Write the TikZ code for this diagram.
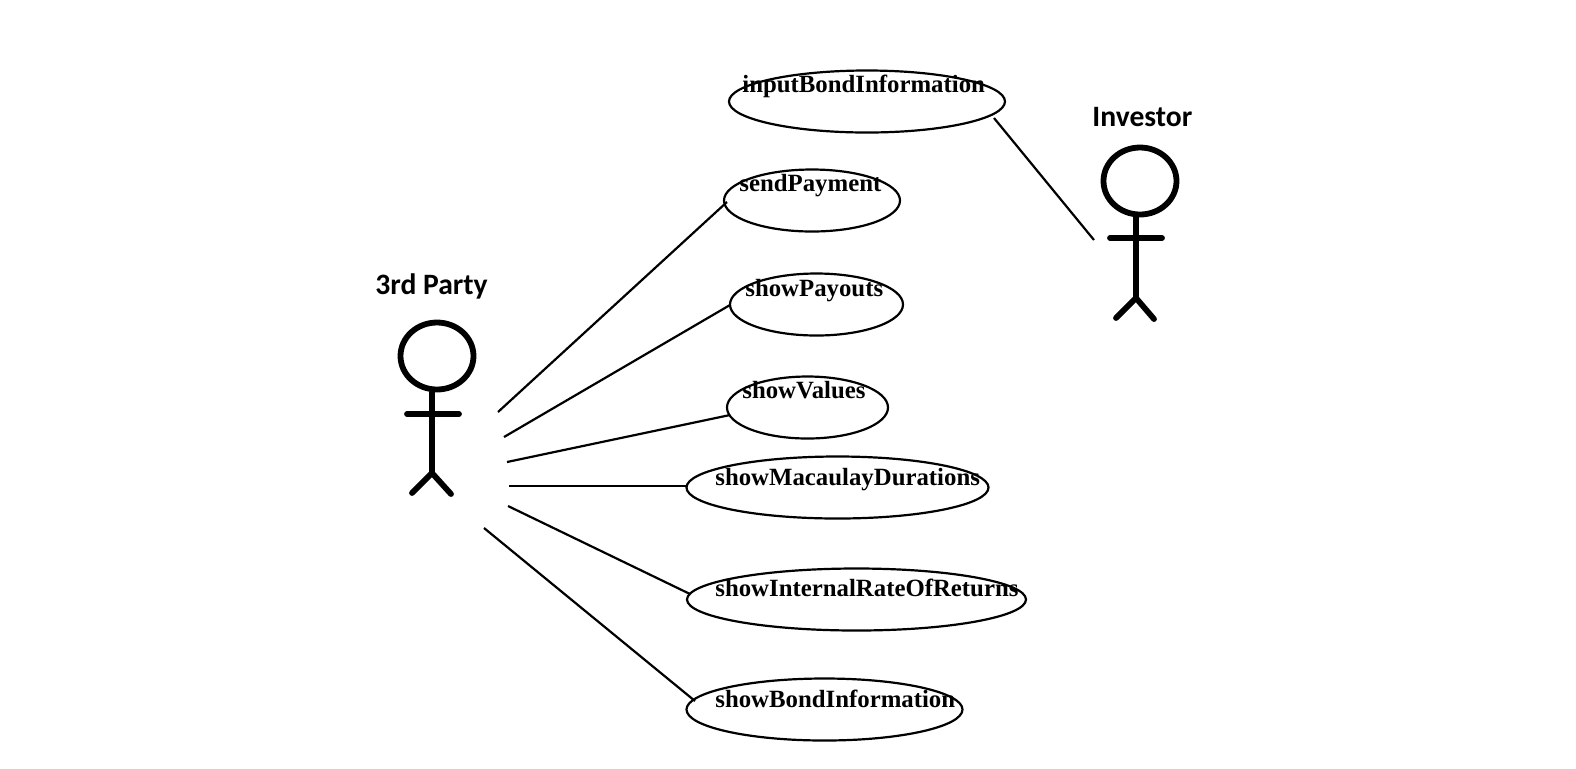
\documentclass[tikz,border=0pt]{standalone}
\usepackage{fontspec}
\setmainfont{Liberation Serif}
\newfontfamily\actorfont{Carlito}
\usetikzlibrary{shapes.geometric}
\tikzset{
  x=0.5pt,y=-0.5pt,
  usecase/.style 2 args={draw=black,line width=1.1pt,ellipse,inner sep=0pt,minimum width=#1*0.5pt,minimum height=#2*0.5pt},
  casetext/.style={anchor=base west,inner sep=0pt,font=\bfseries\fontsize{12.4}{14}\selectfont,text=black},
  actortext/.style={anchor=base west,inner sep=0pt,font=\actorfont\bfseries\fontsize{14.8}{16}\selectfont,text=black},
  head/.style 2 args={draw=black,line width=2.9pt,ellipse,inner sep=0pt,minimum width=#1*0.5pt,minimum height=#2*0.5pt},
  limb/.style={draw=black,line width=2.9pt,line cap=round},
  link/.style={draw=black,line width=1.1pt},
}
\begin{document}
\begin{tikzpicture}
\useasboundingbox (0,0) rectangle (1576,768);
\fill[white] (0,0) rectangle (1576,768);
% use cases
\node[usecase={276}{62}] (input) at (867,101.5) {};
\node[usecase={176}{62}] (send) at (812,200.5) {};
\node[usecase={173}{62}] (payouts) at (816.5,304.5) {};
\node[usecase={161}{62}] (values) at (807.5,407.5) {};
\node[usecase={302}{62}] (mac) at (837.5,487.5) {};
\node[usecase={339}{62}] (irr) at (856.5,599.5) {};
\node[usecase={276}{62}] (bond) at (824.5,709.5) {};
% labels
\node[casetext] (inputT) at (742,92) {inputBondInformation};
\node[casetext] (sendT) at (739,191) {sendPayment};
\node[casetext] (payoutsT) at (745,296) {showPayouts};
\node[casetext] (valuesT) at (742,398) {showValues};
\node[casetext] (macT) at (715,485) {showMacaulayDurations};
\node[casetext] (irrT) at (715,596) {showInternalRateOfReturns};
\node[casetext] (bondT) at (715,707) {showBondInformation};
\node[actortext] (invT) at (1092,126) {Investor};
\node[actortext] (partyT) at (375,294) {3rd Party};
% 3rd party actor
\node[head={73}{67}] (partyH) at (437,356) {};
\coordinate (partyHip) at (432,473);
\coordinate (partyA) at (407,414);
\coordinate (partyB) at (459,414);
\coordinate (partyL) at (412,493);
\coordinate (partyR) at (451,494);
\draw[limb] (partyH.south-|partyHip) -- (partyHip);
\draw[limb] (partyA) -- (partyB);
\draw[limb] (partyL) -- (partyHip) -- (partyR);
% investor actor
\node[head={73}{67}] (invH) at (1140,181) {};
\coordinate (invHip) at (1136,298);
\coordinate (invA) at (1110,238);
\coordinate (invB) at (1162,238);
\coordinate (invL) at (1116,318);
\coordinate (invR) at (1154,319);
\draw[limb] (invH.south-|invHip) -- (invHip);
\draw[limb] (invA) -- (invB);
\draw[limb] (invL) -- (invHip) -- (invR);
% free ends
\coordinate (a0) at (1094,240);
\coordinate (a1) at (498,412);
\coordinate (a2) at (504,437);
\coordinate (a3) at (507,462);
\coordinate (a4) at (509,486);
\coordinate (a5) at (508,506);
\coordinate (a6) at (484,528);
\coordinate (e0) at (994,118);
\coordinate (e1) at (727,202);
\coordinate (e2) at (730,305);
\coordinate (e3) at (730,415);
\coordinate (e4) at (686,486);
\coordinate (e5) at (690,594);
\coordinate (e6) at (695,701);
\draw[link] (e0) -- (a0);
\draw[link] (a1) -- (e1);
\draw[link] (a2) -- (e2);
\draw[link] (a3) -- (e3);
\draw[link] (a4) -- (e4);
\draw[link] (a5) -- (e5);
\draw[link] (a6) -- (e6);
\end{tikzpicture}
\end{document}
